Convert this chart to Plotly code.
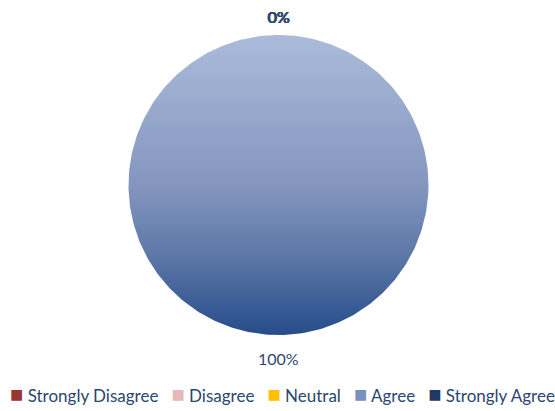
import numpy as np
import plotly.graph_objects as go

categories = ["Strongly Disagree", "Disagree", "Neutral", "Agree", "Strongly Agree"]
values = [0, 0, 0, 100, 0]
colors = ["#953735", "#E6B9B8", "#FFC000", "#7A90BC", "#1F3864"]

W, H = 555, 411
ml, mr, mt, mb = 2, 0, 35, 76
PW, PH = W - ml - mr, H - mt - mb
R = min(PW, PH) / 2.0

fig = go.Figure()

# vertical-gradient disc underneath the (transparent) Agree slice
th = np.linspace(0, 2 * np.pi, 361)
fig.add_trace(go.Scatter(
    x=R * np.cos(th), y=R * np.sin(th), mode="lines", fill="toself",
    line=dict(width=0, color="rgba(0,0,0,0)"),
    fillgradient=dict(type="vertical", start=-R, stop=R,
                      colorscale=[[0, "#264C8A"], [0.27, "#5E78A8"],
                                  [0.5, "#8496BF"], [1, "#ABBBDA"]]),
    hoverinfo="skip", showlegend=False))

slice_colors = [c if cat != "Agree" else "rgba(0,0,0,0)" for c, cat in zip(colors, categories)]
fig.add_trace(go.Pie(
    labels=categories, values=values, sort=False, direction="clockwise", rotation=0,
    marker=dict(colors=slice_colors, line=dict(width=0)),
    textinfo="none", automargin=False, showlegend=False, hoverinfo="label+percent",
    domain=dict(x=[0, 1], y=[0, 1])))

# percentage labels placed just outside each slice's mid-angle (paper coords)
total = sum(values)
cum = np.cumsum([0] + values)
for i, v in enumerate(values):
    mid = 2 * np.pi * (cum[i] + v / 2) / total
    off = R + 21 - 2.75 * np.cos(mid)
    fig.add_annotation(text=f"{v / total:.0%}",
                       x=0.5 + off * np.sin(mid) / PW, y=0.5 + off * np.cos(mid) / PH,
                       xref="paper", yref="paper", showarrow=False,
                       xanchor="center", yanchor="middle",
                       font=dict(family="Lato", size=16, color="#2F4772"))

legend_txt = "\u00a0\u00a0\u00a0".join(
    f'<span style="color:{c};font-size:22px">■</span>\u00a0{cat}'
    for cat, c in zip(categories, colors))
fig.add_annotation(text=legend_txt, x=(282.5 - ml) / PW, y=-(393 - (H - mb)) / PH,
                   xref="paper", yref="paper", xanchor="center", yanchor="middle",
                   showarrow=False, font=dict(family="Lato", size=17, color="#2C4672"))

fig.update_xaxes(visible=False, range=[-PW / 2, PW / 2], fixedrange=True, automargin=False)
fig.update_yaxes(visible=False, range=[-PH / 2, PH / 2], fixedrange=True, automargin=False)
fig.update_layout(width=W, height=H, margin=dict(l=ml, r=mr, t=mt, b=mb, autoexpand=False),
                  paper_bgcolor="white", plot_bgcolor="white", showlegend=False)

fig.write_html("out.html", config={"displayModeBar": False},
               post_script="document.body.style.margin='0px';")
